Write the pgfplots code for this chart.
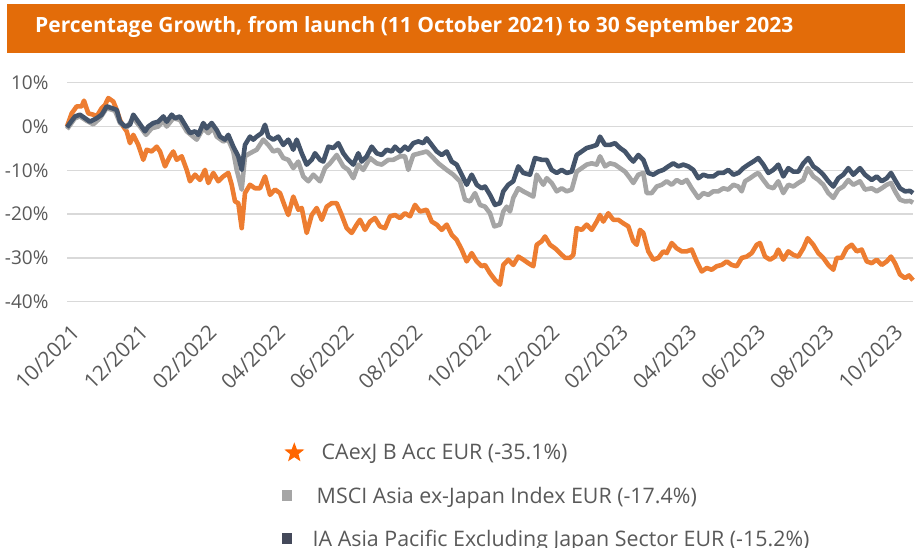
\documentclass[border=0pt]{standalone}
\usepackage{fontspec}
\setmainfont{Open Sans}
\usepackage{pgfplots}
\pgfplotsset{compat=1.18}
\usetikzlibrary{shapes.geometric}
\definecolor{barorange}{RGB}{227,108,9}
\definecolor{caorange}{RGB}{237,125,49}
\definecolor{msgray}{RGB}{165,165,165}
\definecolor{iadark}{RGB}{68,84,106}
\definecolor{tickgray}{RGB}{89,89,89}
\definecolor{gridgray}{RGB}{217,217,217}
\definecolor{starorange}{RGB}{255,102,0}
\definecolor{sqdark}{RGB}{68,73,90}
\begin{document}
\begin{tikzpicture}
\useasboundingbox (0pt,0pt) rectangle (917pt,-547pt);
\fill[barorange] (7pt,-4pt) rectangle (905pt,-53pt);
\node[anchor=west, text=white, inner sep=0pt, font=\fontsize{21}{24}\selectfont\bfseries] at (35pt,-27pt) {Percentage Growth, from launch (11 October 2021) to 30 September 2023};
\begin{axis}[
  at={(67pt,-301.7pt)}, anchor=south west, scale only axis,
  width=846pt, height=219pt,
  xmin=0, xmax=846, ymin=-40, ymax=10,
  clip=false,
  axis line style={draw=none},
  major tick length=0pt,
  ymajorgrids, grid style={gridgray, line width=1.5pt},
  ytick={-40,-30,-20,-10,0,10},
  yticklabels={-40\%,-30\%,-20\%,-10\%,0\%,10\%},
  yticklabel style={font=\fontsize{19}{22}\selectfont, text=tickgray, xshift=-15pt},
  xtick={0,68.6,137.2,205.8,274.4,343,411.6,480.2,548.8,617.4,686,754.6,823.2},
  xticklabels={10/2021,12/2021,02/2022,04/2022,06/2022,08/2022,10/2022,12/2022,02/2023,04/2023,06/2023,08/2023,10/2023},
  xticklabel style={font=\fontsize{21}{24}\selectfont, text=tickgray, yshift=-17pt, xshift=3pt, rotate=45, anchor=north east},
  legend cell align=left,
  legend style={at={(axis description cs:0.2441,-0.641)}, anchor=north west, draw=none, fill=none,
    font=\fontsize{21.4}{25}\selectfont, text=tickgray, row sep=21.5pt, inner sep=0pt},
]
\addplot[caorange, line width=4.6pt, line join=round, legend image code/.code={\path[draw=none,fill=none] (-27pt,0pt) -- (14pt,0pt); \node[star,star points=5,star point ratio=2.4,draw=none,fill=starorange,inner sep=0pt,minimum size=21pt] at (-16pt,0pt) {};}] coordinates {
(0,0) (4.7,3.0) (9.7,4.6) (14.7,4.6) (17,5.9) (21.3,3.0) (26.3,2.7) (29.7,2.3) (34.7,4.2) (38,4.9) (41.3,6.5) (46.3,5.7) (49.7,3.8) (53,1.5) (56.3,0) (59.7,-1.1) (63,-3.8) (66.3,-1.9) (71.3,-4.2) (76.3,-7.6) (79.7,-5.3) (84.7,-5.7) (89.7,-4.6) (93,-5.7) (98,-9.1) (103,-6.8) (106.3,-5.7) (109.7,-7.6) (114.7,-6.8) (119.7,-9.9) (123,-12.5) (128,-11.0) (133,-12.2) (138,-9.9) (141.3,-12.9) (146.3,-10.6) (151.3,-12.5) (156.3,-11.4) (161.3,-10.6) (164.7,-13.3) (168,-17.1) (171.3,-17.5) (174.7,-23.2) (178,-15.2) (183,-13.3) (188,-14.1) (193,-14.1) (198,-11.4) (203,-15.6) (208,-14.4) (213,-15.2) (218,-18.3) (221.3,-20.2) (226.3,-16.0) (231.3,-19.0) (234.7,-18.6) (239.7,-24.3) (244.7,-20.2) (249.7,-18.6) (254.7,-21.3) (259.7,-18.3) (264.7,-17.5) (269.7,-17.5) (274.7,-20.2) (279.7,-23.2) (284.7,-24.3) (289.7,-22.4) (293,-21.3) (298,-23.6) (303,-21.7) (308,-20.9) (313,-22.8) (318,-23.2) (323,-20.5) (328,-20.2) (333,-20.9) (338,-19.8) (343,-20.5) (348,-17.9) (353,-19.4) (359.7,-19.0) (364.7,-21.7) (369.7,-22.4) (374.7,-23.6) (379.7,-22.4) (384.7,-24.7) (389.7,-25.9) (394.7,-28.1) (399.7,-30.8) (404.7,-28.9) (409.7,-30.8) (414.7,-31.9)
(418,-31.6) (423,-33.5) (428,-35.0) (433,-36.1) (436.3,-31.6) (441.3,-30.4) (446.3,-31.6) (451.3,-29.7) (456.3,-30.4) (461.3,-31.2) (466.3,-31.9) (469.7,-27.0) (474.7,-26.2) (478,-25.1) (483,-27.0) (488,-27.8) (493,-28.9) (498,-30.0) (503,-30.0) (506.3,-29.3) (509.7,-23.2) (514.7,-23.6) (519.7,-22.4) (524.7,-23.6) (529.7,-21.7) (533,-20.2) (536.3,-21.7) (541.3,-19.8) (546.3,-21.3) (551.3,-21.3) (556.3,-22.1) (561.3,-22.8) (566.3,-26.2) (569.7,-27.0) (573,-23.6) (576.3,-24.3) (581.3,-28.5) (586.3,-30.4) (591.3,-30.0) (596.3,-28.5) (599.7,-28.9) (604.7,-26.6) (609.7,-27.8) (614.7,-28.5) (619.7,-28.5) (624.7,-28.1) (629.7,-30.8) (634.7,-33.1) (639.7,-32.3) (644.7,-32.7) (649.7,-31.9) (654.7,-31.6) (659.7,-30.8) (664.7,-31.6) (669.7,-31.9) (674.7,-30.0) (679.7,-29.7) (684.7,-28.9) (689.7,-27.0) (693,-26.6) (698,-29.7) (703,-30.4) (708,-29.7) (711.3,-28.1) (716.3,-30.4) (721.3,-28.5) (726.3,-29.3) (731.3,-29.7) (736.3,-27.8) (740.7,-25.5) (746.3,-27.0) (751.3,-28.9) (756.3,-30.0) (761.3,-31.6) (766.3,-32.7) (769.7,-30.0) (774.7,-30.0) (779.7,-27.8) (784.7,-27.0) (789.7,-28.5) (794.7,-28.1) (799.7,-30.8) (804.7,-31.2) (809.7,-30.4) (814.7,-31.6) (819.7,-30.8) (824,-29.7) (828,-31.2) (833,-33.8) (838,-34.6) (842,-34.0) (846,-35.1)
};
\addlegendentry{\hspace{5pt}CAexJ B Acc EUR (-35.1\%)}
\addplot[msgray, line width=4.6pt, line join=round, legend image code/.code={\path[draw=none,fill=none] (-27pt,0pt) -- (14pt,0pt); \fill[msgray, draw=none] (-19pt,-5.5pt) rectangle (-9pt,5.5pt);}] coordinates {
(0,-0.6) (8,1.9) (13,2.3) (19.7,1.3) (26.3,0.5) (33,1.9) (39.7,4.2) (48,3.6) (53,0.8) (59.7,-0.2) (66.3,1.9) (73,0) (79,-1.9) (84.7,-0.4) (91.3,0) (96.3,1.3) (99.7,0) (106.3,1.9) (113,1.5) (119.7,-1.1) (129.7,-3.0) (136.3,-0.4) (141.3,-1.5) (146.3,-0.4) (149.7,-2.3) (156.3,-3.4) (161.3,-3.0) (166.3,-5.7) (169.7,-9.9) (174.7,-14.4) (178,-6.8) (183,-6.1) (189.7,-5.3) (196.3,-3.0) (201.3,-4.2) (206.3,-5.7) (211.3,-5.3) (216.3,-7.2) (221.3,-7.6) (226.3,-9.5) (231.3,-8.0) (236.3,-11.4) (241.3,-12.5) (246.3,-11.0) (253,-12.5) (258,-9.5) (263,-8.4) (269.7,-6.5) (276.3,-9.1) (281.3,-9.9) (286.3,-11.8) (291.3,-8.7) (296.3,-9.9) (303,-7.2) (309.7,-8.4) (314.7,-8.7) (321.3,-7.6) (326.3,-7.6) (333,-6.8) (338,-6.8) (341.3,-9.9) (346.3,-6.5) (353,-6.1) (359.7,-5.7) (364.7,-6.8) (371.3,-8.4) (379.7,-9.9) (386.3,-11.0) (393,-12.5) (398,-16.7) (403,-17.1) (408,-15.2) (413,-17.9)
(418,-18.3) (423,-19.8) (427.3,-22.8) (433,-22.4) (436.3,-19.4) (439.7,-18.3) (443,-19.4) (446.3,-16.3) (451.3,-14.1) (456.3,-14.8) (463,-15.6) (466.3,-16.0) (469.7,-11.0) (476.3,-13.3) (479.7,-11.8) (484.7,-12.9) (489.7,-14.8) (494.7,-14.1) (499.7,-14.8) (504.7,-14.4) (509.7,-10.3) (514.7,-9.5) (519.7,-8.7) (524.7,-8.4) (529.7,-8.7) (533,-6.8) (538,-9.1) (543,-8.4) (548,-8.7) (553,-9.5) (558,-10.3) (563,-11.8) (566.3,-12.9) (571.3,-11.0) (576.3,-10.6) (579.7,-15.2) (584.7,-15.2) (589.7,-13.7) (594.7,-13.3) (599.7,-12.5) (604.7,-13.3) (609.7,-12.2) (614.7,-12.9) (619.7,-12.2) (624.7,-14.1) (631.3,-16.3) (636.3,-15.2) (641.3,-15.6) (646.3,-14.8) (651.3,-14.8) (656.3,-14.1) (661.3,-14.4) (666.3,-13.3) (671.3,-13.7) (674.7,-14.8) (678,-12.5) (683,-11.8) (688,-11.0) (691.3,-10.6) (696.3,-12.2) (701.3,-13.7) (706.3,-14.1) (711.3,-12.5) (716.3,-15.2) (721.3,-13.3) (726.3,-13.7) (731.3,-12.9) (736.3,-12.2) (740.7,-9.5) (746.3,-11.4) (751.3,-12.2) (756.3,-13.3) (761.3,-15.2) (766.3,-16.3) (771.3,-14.4) (776.3,-13.7) (781.3,-12.2) (786.3,-13.3) (793,-12.5) (798,-14.4) (804.7,-14.1) (809.7,-14.8) (814.7,-14.1) (819.7,-13.3) (824,-12.9) (828,-14.8) (833,-16.7) (838,-17.1) (843,-17.0) (846,-17.4)
};
\addlegendentry{MSCI Asia ex-Japan Index EUR (-17.4\%)}
\addplot[iadark, line width=4.6pt, line join=round, legend image code/.code={\path[draw=none,fill=none] (-27pt,0pt) -- (14pt,0pt); \fill[sqdark, draw=none] (-19pt,-5.5pt) rectangle (-9pt,5.5pt);}] coordinates {
(0,-0.2) (3,0.8) (8,2.3) (13,2.7) (18,1.9) (23,1.1) (29.7,1.9) (34.7,2.7) (39.7,4.6) (44.7,4.2) (49.7,3.8) (53,1.1) (58,0) (63,0.4) (66.3,2.7) (71.3,1.1) (78,-1.1) (81.3,0) (86.3,0.8) (91.3,1.1) (96.3,2.3) (99.7,1.1) (104.7,2.7) (108,1.9) (113,2.3) (118,0.4) (123,-1.5) (128,-1.1) (131.3,-1.9) (136.3,0.8) (139.7,-0.4) (144.7,0.8) (149.7,-0.8) (153,-2.3) (158,-3.0) (161.3,-1.9) (166.3,-4.6) (171.3,-6.8) (174.7,-9.9) (178,-4.2) (183,-2.3) (186.3,-3.0) (189.7,-2.3) (194.7,-1.5) (198,0.4) (201.3,-2.3) (206.3,-3.0) (211.3,-2.3) (216.3,-4.2) (221.3,-3.0) (226.3,-5.3) (229.7,-3.0) (234.7,-6.1) (239.7,-8.7) (244.7,-7.6) (248,-6.1) (253,-7.6) (256.3,-8.0) (261.3,-4.6) (266.3,-4.9) (271.3,-3.8) (276.3,-6.1) (281.3,-7.6) (286.3,-8.7) (291.3,-6.1) (294.7,-8.0) (299.7,-6.8) (304.7,-4.6) (309.7,-6.1) (314.7,-6.5) (319.7,-5.3) (324.7,-5.7) (328,-4.6) (333,-5.7) (338,-4.6) (341.3,-5.3) (346.3,-3.8) (351.3,-3.4) (356.3,-3.8) (359.7,-2.7) (364.7,-4.2) (369.7,-5.7) (374.7,-6.5) (379.7,-5.7) (384.7,-8.0) (389.7,-8.7) (394.7,-11.0) (399.7,-13.3) (404.7,-11.0) (409.7,-13.3) (414.7,-14.1)
(418,-13.7) (423,-15.6) (428,-17.9) (433,-17.5) (436.3,-14.8) (441.3,-13.3) (446.3,-12.5) (451.3,-9.1) (456.3,-10.6) (463,-11.0) (468,-7.2) (474.7,-7.6) (479.7,-7.6) (484.7,-9.9) (489.7,-10.6) (494.7,-9.9) (499.7,-10.6) (504.7,-10.3) (509.7,-6.5) (514.7,-5.7) (519.7,-4.9) (524.7,-4.6) (529.7,-4.2) (533,-2.3) (538,-4.2) (543,-4.2) (548,-3.8) (553,-4.9) (558,-5.7) (563,-7.2) (566.3,-8.0) (571.3,-6.5) (576.3,-7.6) (581.3,-10.6) (586.3,-11.0) (591.3,-10.3) (596.3,-9.9) (601.3,-9.1) (606.3,-8.4) (611.3,-9.1) (616.3,-8.7) (621.3,-9.1) (626.3,-9.9) (631.3,-11.8) (636.3,-11.0) (641.3,-11.4) (646.3,-11.4) (651.3,-10.6) (656.3,-10.6) (661.3,-9.9) (666.3,-11.0) (671.3,-10.6) (676.3,-9.5) (681.3,-8.7) (686.3,-8.0) (691.3,-7.2) (696.3,-8.7) (701.3,-10.6) (706.3,-9.9) (711.3,-8.7) (716.3,-11.4) (721.3,-9.5) (726.3,-10.3) (731.3,-10.3) (736.3,-8.4) (741.3,-7.2) (746.3,-9.1) (751.3,-9.9) (756.3,-11.0) (761.3,-12.5) (766.3,-13.7) (771.3,-11.8) (776.3,-11.0) (781.3,-9.5) (786.3,-11.0) (793,-9.5) (798,-11.0) (804.7,-12.2) (809.7,-11.4) (814.7,-12.5) (819.7,-11.8) (824,-10.6) (828,-12.2) (833,-14.1) (838,-14.8) (843,-14.7) (846,-15.2)
};
\addlegendentry{\hspace{-4pt}IA Asia Pacific Excluding Japan Sector EUR (-15.2\%)}
\end{axis}
\end{tikzpicture}
\end{document}
